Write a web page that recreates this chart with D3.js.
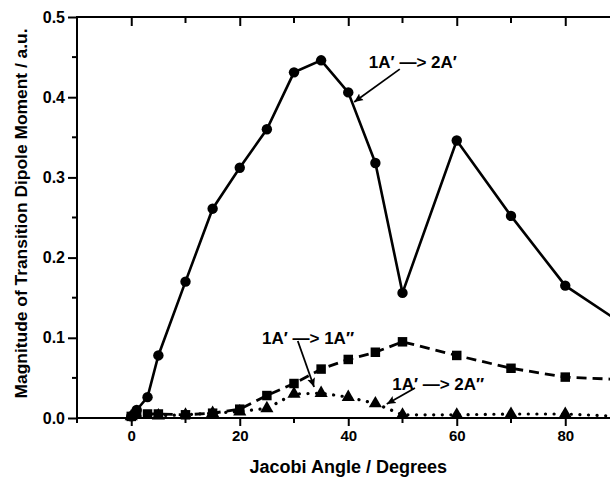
<!DOCTYPE html>
<html>
<head>
<meta charset="utf-8">
<script src="https://cdn.jsdelivr.net/npm/d3@7"></script>
<style>
  html, body { margin: 0; padding: 0; background: #fff; }
  svg { display: block; font-family: "Liberation Sans", Arial, sans-serif; font-weight: bold; }
  .axis path, .axis line { stroke: #000; stroke-width: 2; }
  .axis text { fill: #000; }
</style>
</head>
<body>
<div id="chart"></div>
<script>
// Transition dipole moments vs Jacobi angle, three transitions.
const angles2A1 = [0, 1, 3, 5, 10, 15, 20, 25, 30, 35, 40, 45, 50, 60, 70, 80, 90];
const dipole2A1 = [0.002, 0.010, 0.026, 0.078, 0.170, 0.261, 0.312, 0.360, 0.431, 0.446, 0.406, 0.318, 0.156, 0.346, 0.252, 0.165, 0.120];

const angles1A2 = [0, 1, 3, 5, 10, 15, 20, 25, 30, 35, 40, 45, 50, 60, 70, 80, 90];
const dipole1A2 = [0.002, 0.005, 0.005, 0.005, 0.004, 0.006, 0.011, 0.028, 0.043, 0.061, 0.073, 0.082, 0.095, 0.078, 0.062, 0.051, 0.048];

const angles2A2 = [0, 5, 10, 15, 20, 25, 30, 35, 40, 45, 50, 60, 70, 80, 90];
const dipole2A2 = [0.002, 0.003, 0.004, 0.006, 0.008, 0.012, 0.030, 0.031, 0.026, 0.018, 0.004, 0.004, 0.005, 0.005, 0.002];

const xTicks = [0, 20, 40, 60, 80];
const yTicks = [0.0, 0.1, 0.2, 0.3, 0.4, 0.5];

const labels = ["1A\u2032 \u2014> 2A\u2032", "1A\u2032 \u2014> 1A\u2033", "1A\u2032 \u2014> 2A\u2033"];

(function () {
  'use strict';

  const width = 610;
  const height = 478;

  const x = d3.scaleLinear().domain([-10, 90]).range([77, 619.5]);
  const y = d3.scaleLinear().domain([0, 0.5]).range([418, 17]);

  const svg = d3.select('#chart')
    .append('svg')
    .attr('width', width)
    .attr('height', height);

  // Axes: major + minor ticks, outward on bottom/left, inward on top
  const minorX = d3.range(-10, 91, 10).filter((v) => v % 20 !== 0);
  const minorY = d3.range(0.05, 0.5, 0.1);

  function tickLines(g, vals, fn) {
    g.selectAll(null).data(vals).enter().append('line').each(fn);
  }

  // bottom
  const bottom = svg.append('g').attr('class', 'axis').attr('transform', `translate(0,${y(0)})`);
  bottom.call(d3.axisBottom(x).tickValues(xTicks).tickSize(8).tickSizeOuter(0).tickPadding(4).tickFormat(d3.format('d')));
  bottom.select('.domain').attr('d', `M${x(-10)},0H${width + 20}`);
  bottom.selectAll('text').style('font-size', '15px');
  tickLines(bottom, minorX, function (d) {
    d3.select(this).attr('x1', x(d)).attr('x2', x(d)).attr('y1', 0).attr('y2', 5);
  });

  // top (mirror, inward)
  const top = svg.append('g').attr('class', 'axis').attr('transform', `translate(0,${y(0.5)})`);
  top.call(d3.axisTop(x).tickValues(xTicks).tickSize(-9).tickSizeOuter(0).tickFormat(''));
  top.select('.domain').attr('d', `M${x(-10)},0H${width + 20}`);
  tickLines(top, minorX, function (d) {
    d3.select(this).attr('x1', x(d)).attr('x2', x(d)).attr('y1', 0).attr('y2', 6);
  });

  // left
  const left = svg.append('g').attr('class', 'axis').attr('transform', `translate(${x(-10)},0)`);
  left.call(d3.axisLeft(y).tickValues(yTicks).tickSize(9).tickSizeOuter(0).tickPadding(3).tickFormat(d3.format('.1f')));
  left.select('.domain').attr('d', `M0,${y(0) + 1}V${y(0.5) - 1}`);
  left.selectAll('text').style('font-size', '16px');
  tickLines(left, minorY, function (d) {
    d3.select(this).attr('y1', y(d)).attr('y2', y(d)).attr('x1', 0).attr('x2', -5);
  });

  // Axis titles
  svg.append('text')
    .attr('x', x(40))
    .attr('y', 473)
    .attr('text-anchor', 'middle')
    .style('font-size', '18px')
    .text('Jacobi Angle / Degrees');

  svg.append('text')
    .attr('transform', `translate(27,${y(0.255)}) rotate(-90)`)
    .attr('text-anchor', 'middle')
    .style('font-size', '17.4px')
    .text('Magnitude of Transition Dipole Moment / a.u.');

  // Series
  const series = [
    { xs: angles2A1, ys: dipole2A1, dash: null, cap: 'butt', w: 2.6, sym: d3.symbolCircle, size: 85 },
    { xs: angles1A2, ys: dipole1A2, dash: '10,6', cap: 'butt', w: 2.8, sym: d3.symbolSquare, size: 90 },
    { xs: angles2A2, ys: dipole2A2, dash: '0.1,8.5', cap: 'round', w: 3.2, sym: d3.symbolTriangle, size: 75 },
  ];

  const line = d3.line().x((d) => x(d[0])).y((d) => y(d[1]));

  series.slice().reverse().forEach((s) => {
    const pts = s.xs.map((v, i) => [v, s.ys[i]]);
    svg.append('path')
      .attr('d', line(pts))
      .attr('fill', 'none')
      .attr('stroke', '#000')
      .attr('stroke-width', s.w)
      .attr('stroke-linecap', s.cap)
      .attr('stroke-dasharray', s.dash);
    svg.append('g')
      .selectAll('path')
      .data(pts)
      .enter()
      .append('path')
      .attr('transform', (d) => `translate(${x(d[0])},${y(d[1])})`)
      .attr('d', d3.symbol().type(s.sym).size(s.size))
      .attr('fill', '#000');
  });

  // Annotations with arrows (data coordinates)
  const notes = [
    { text: labels[0], tx: 43.8, ty: 0.4364, from: [49.5, 0.435], to: [41.1, 0.394] },
    { text: labels[1], tx: 24.1, ty: 0.0923, from: [30.7, 0.096], to: [33.7, 0.0387] },
    { text: labels[2], tx: 48.1, ty: 0.0349, from: [52.3, 0.0374], to: [47.1, 0.0175] },
  ];

  svg.append('defs')
    .append('marker')
    .attr('id', 'arrow')
    .attr('viewBox', '0 -5 10 10')
    .attr('refX', 10)
    .attr('markerWidth', 9)
    .attr('markerHeight', 9)
    .attr('markerUnits', 'userSpaceOnUse')
    .attr('orient', 'auto')
    .append('path')
    .attr('d', 'M0,-4.5L10,0L0,4.5L2,0Z')
    .attr('fill', '#000');

  notes.forEach((n) => {
    svg.append('text')
      .attr('x', x(n.tx))
      .attr('y', y(n.ty))
      .style('font-size', '17px')
      .text(n.text);
    svg.append('line')
      .attr('x1', x(n.from[0])).attr('y1', y(n.from[1]))
      .attr('x2', x(n.to[0])).attr('y2', y(n.to[1]))
      .attr('stroke', '#000')
      .attr('stroke-width', 1.8)
      .attr('marker-end', 'url(#arrow)');
  });
})();
</script>
</body>
</html>
